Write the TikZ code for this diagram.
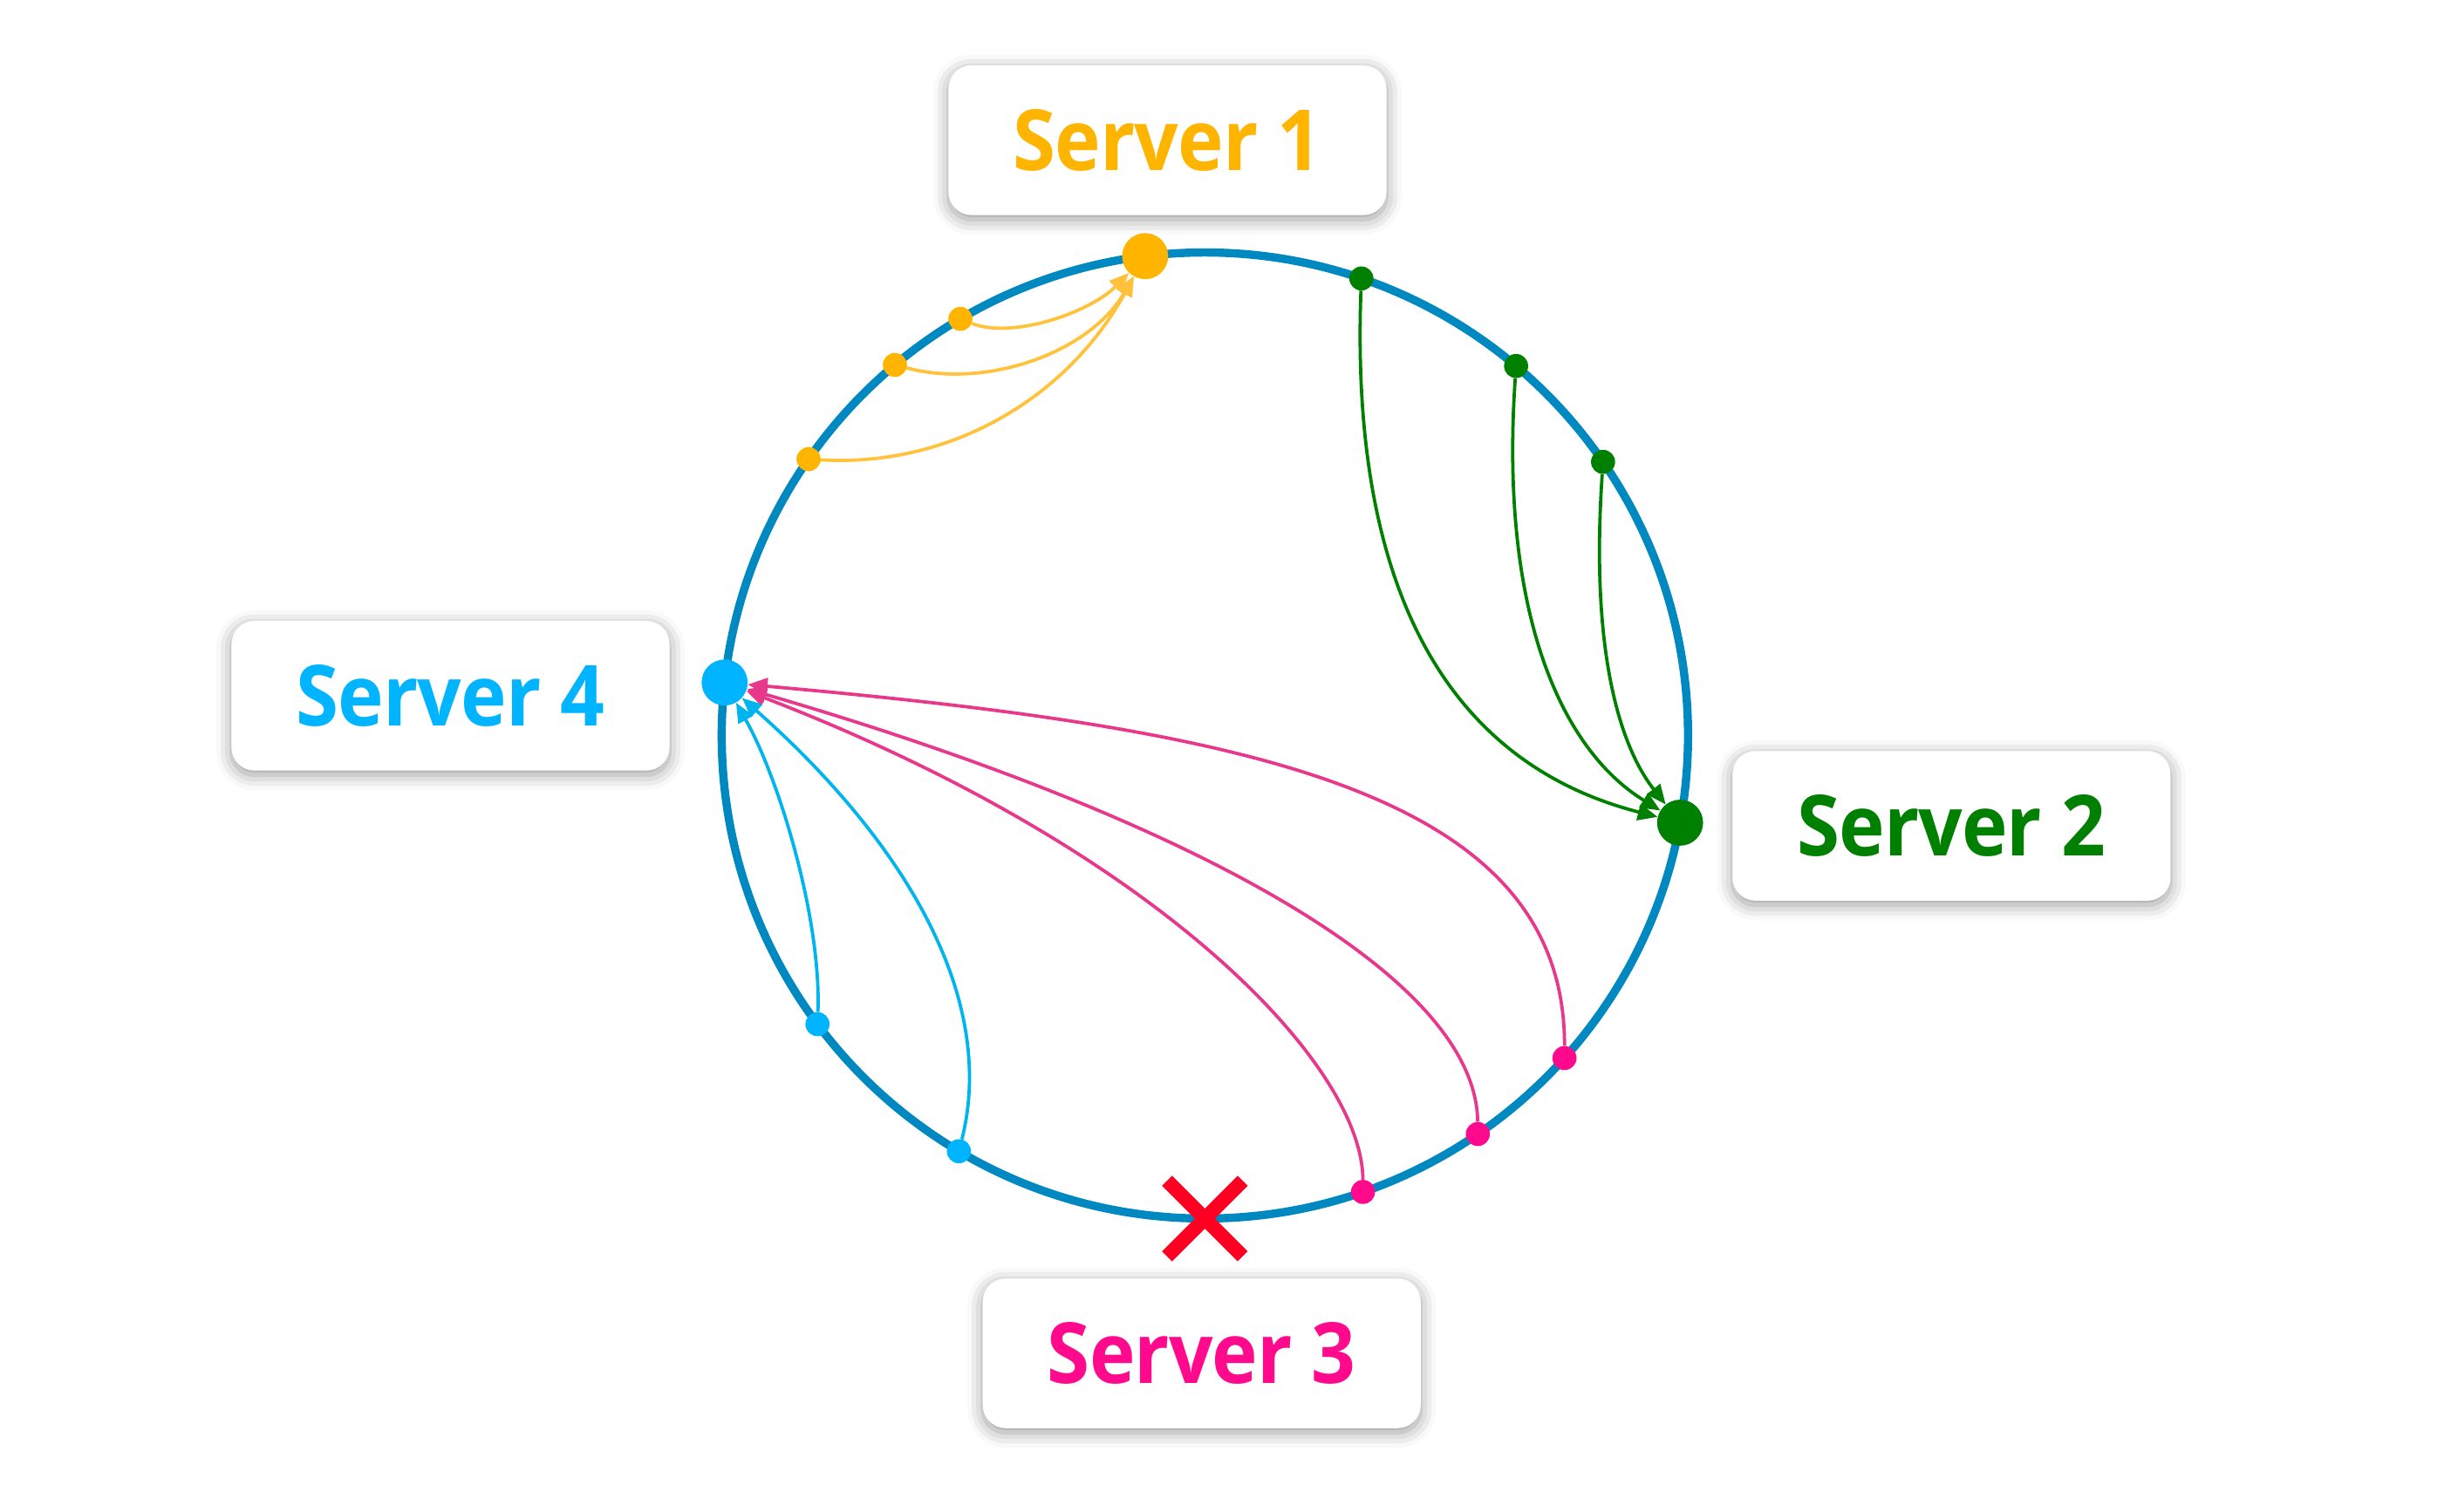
\documentclass[tikz,border=0pt]{standalone}
\usepackage{fontspec}
\newfontfamily\labfont{Open Sans}[FakeStretch=0.92,LetterSpace=-1]
\usetikzlibrary{arrows.meta,shadows.blur,calc,shapes.misc}
\definecolor{ring}{HTML}{0088C0}
\definecolor{sone}{HTML}{FFB400}
\definecolor{soneA}{HTML}{FFC23A}
\definecolor{stwo}{HTML}{008000}
\definecolor{sthree}{HTML}{FF0A8C}
\definecolor{sthreeA}{HTML}{E8388C}
\definecolor{sfour}{HTML}{00B4FF}
\definecolor{sfourA}{HTML}{00B4F0}
\definecolor{xred}{HTML}{FF0022}
\begin{document}
\begin{tikzpicture}[x=0.05cm,y=-0.05cm,
 labbox/.style={rectangle, rounded corners=21pt, fill=white, minimum width=14.05cm, minimum height=4.8cm, inner sep=0pt,
   font=\labfont\bfseries\fontsize{77}{90}\selectfont,
   blur shadow={shadow xshift=0pt,shadow yshift=-4pt,shadow blur radius=14pt,shadow opacity=40}},
 bigdot/.style={circle, fill=#1, inner sep=0pt, minimum size=42pt},
 smalldot/.style={circle, fill=#1, inner sep=0pt, minimum size=22pt},
 link/.style={draw=#1, line width=3pt, -{Triangle[length=18pt,width=15pt]}},
]
\useasboundingbox (0,0) rectangle (1568,970);
% label boxes
\node[labbox, text=sone]   (l1) at (749,90)    {Server 1};
\node[labbox, text=stwo]   (l2) at (1252,530)  {Server 2};
\node[labbox, text=sthree] (l3) at (771,868.5) {Server 3};
\node[labbox, text=sfour]  (l4) at (289,446.5) {Server 4};
% ring
\coordinate (C) at (773,472);
\draw[ring, line width=7.5pt] (C) circle[radius=15.5cm];
% server points
\node[bigdot=sone]  (d1) at ($(C)+(-97.1:310)$) {};
\node[bigdot=stwo]  (d2) at ($(C)+(10.4:310)$) {};
\node[bigdot=sfour] (d4) at ($(C)+(-173.7:310)$) {};
% key points
\node[smalldot=sone] (o1) at ($(C)+(-120.4:310)$) {};
\node[smalldot=sone] (o2) at ($(C)+(-129.9:310)$) {};
\node[smalldot=sone] (o3) at ($(C)+(-145.1:310)$) {};
\node[smalldot=stwo] (g1) at ($(C)+(-71.1:310)$) {};
\node[smalldot=stwo] (g2) at ($(C)+(-49.9:310)$) {};
\node[smalldot=stwo] (g3) at ($(C)+(-34.5:310)$) {};
\node[smalldot=sthree] (m3) at ($(C)+(41.9:310)$) {};
\node[smalldot=sthree] (m2) at ($(C)+(55.6:310)$) {};
\node[smalldot=sthree] (m1) at ($(C)+(70.9:310)$) {};
\node[smalldot=sfour] (b1) at ($(C)+(143.3:310)$) {};
\node[smalldot=sfour] (b2) at ($(C)+(120.6:310)$) {};
% failed server
\node[cross out, draw=xred, line width=13pt, inner sep=0pt, minimum size=56pt] (x3) at ($(C)+(90:310)$) {};
% connectors
\draw[link=soneA] (o1) .. controls (650,218) and (700,200) .. (d1);
\draw[link=soneA] (o2) .. controls (635,250) and (700,225) .. (d1);
\draw[link=soneA] (o3) .. controls (610,300) and (685,255) .. (d1);
\draw[link=stwo] (g1) .. controls (866,380) and (930,490) .. (d2);
\draw[link=stwo] (g2) .. controls (962,390) and (1000,480) .. (d2);
\draw[link=stwo] (g3) .. controls (1020,420) and (1040,480) .. (d2);
\draw[link=sthreeA] (m3) .. controls (1004,509) and (803,468) .. (d4);
\draw[link=sthreeA] (m2) .. controls (947,626) and (763,525) .. (d4);
\draw[link=sthreeA] (m1) .. controls (874,683) and (743,545) .. (d4);
\draw[link=sfourA] (b1) .. controls (527,590) and (500,500) .. (d4);
\draw[link=sfourA] (b2) .. controls (640,640) and (580,540) .. (d4);
\end{tikzpicture}
\end{document}
